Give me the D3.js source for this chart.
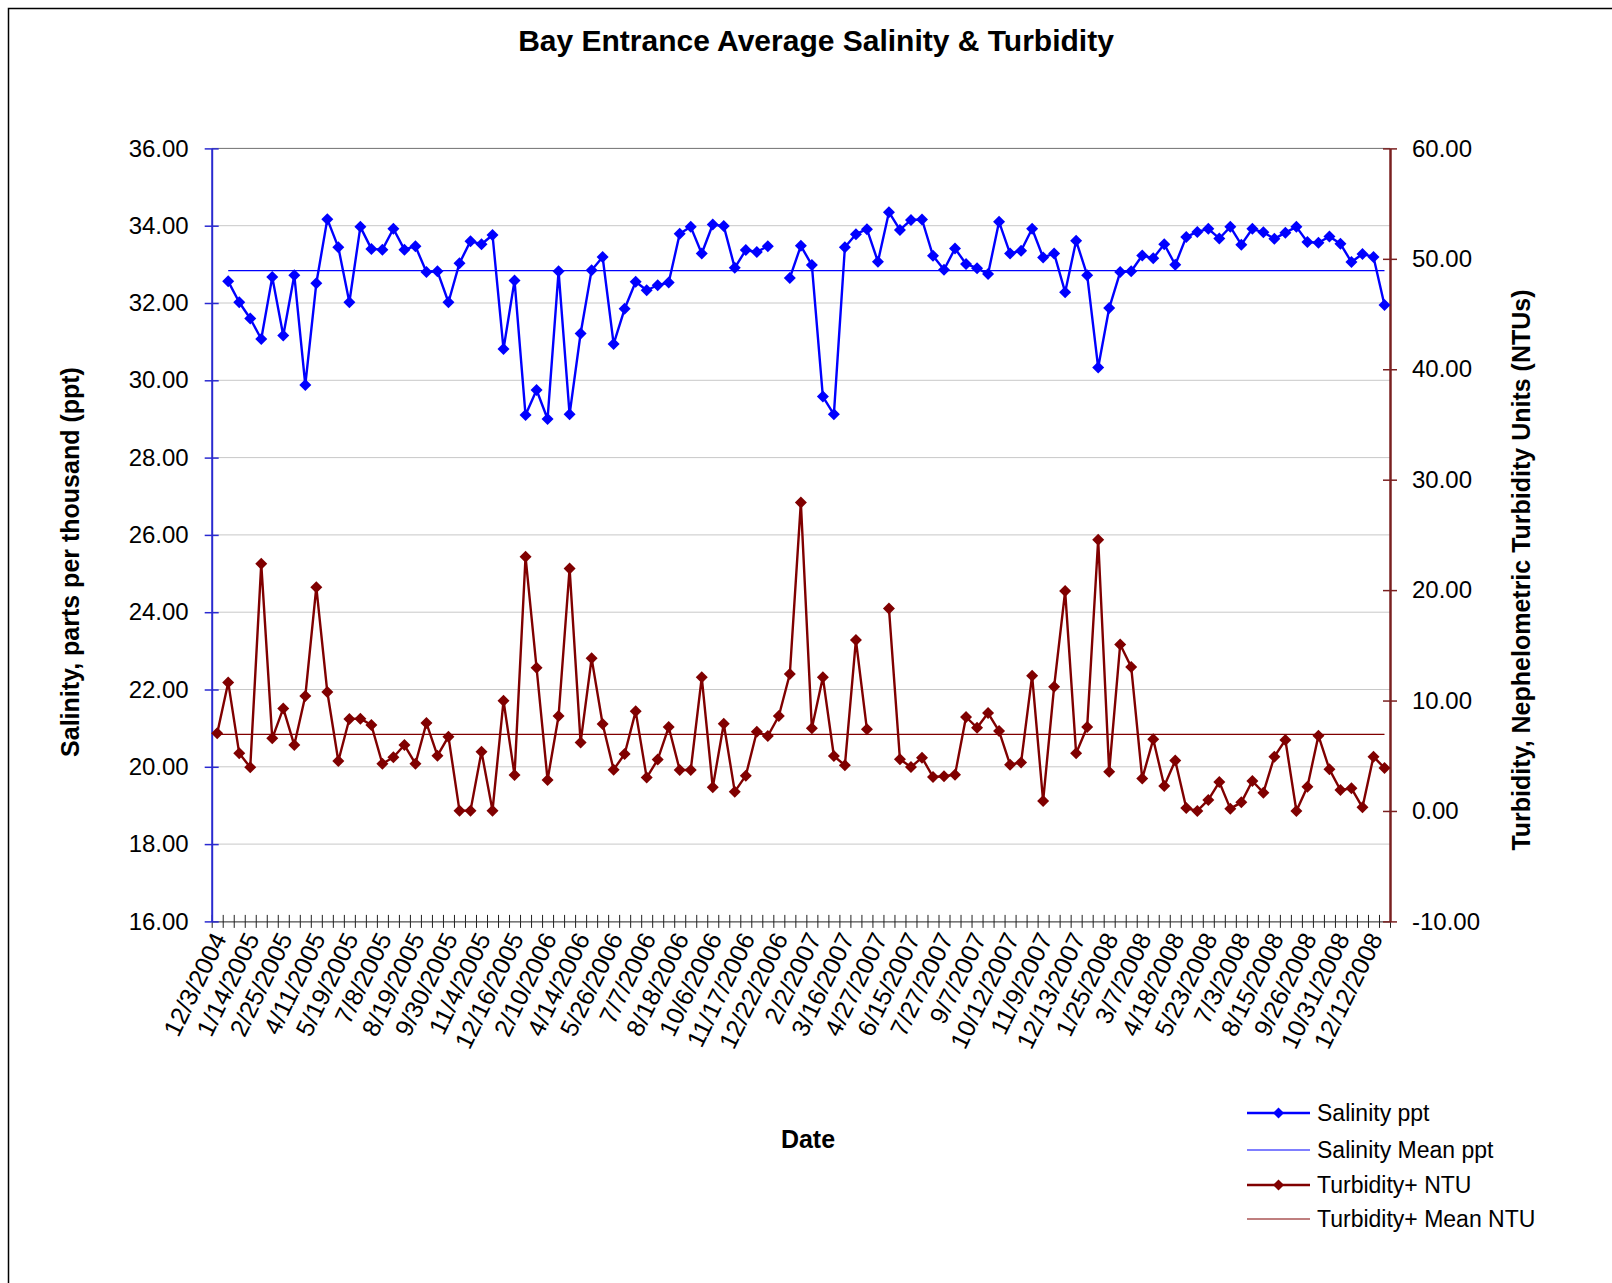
<!DOCTYPE html>
<html>
<head>
<meta charset="utf-8">
<script src="https://cdnjs.cloudflare.com/ajax/libs/d3/7.8.5/d3.min.js"></script>
<style>
body { margin: 0; background: #fff; }
text { font-family: "Liberation Sans", Arial, sans-serif; fill: #000; }
</style>
</head>
<body>
<svg id="chart" width="1612" height="1283"></svg>
<script>
//Data
var tickLabels = ["12/3/2004", "1/14/2005", "2/25/2005", "4/11/2005", "5/19/2005", "7/8/2005",
	"8/19/2005", "9/30/2005", "11/4/2005", "12/16/2005", "2/10/2006", "4/14/2006",
	"5/26/2006", "7/7/2006", "8/18/2006", "10/6/2006", "11/17/2006", "12/22/2006",
	"2/2/2007", "3/16/2007", "4/27/2007", "6/15/2007", "7/27/2007", "9/7/2007",
	"10/12/2007", "11/9/2007", "12/13/2007", "1/25/2008", "3/7/2008", "4/18/2008",
	"5/23/2008", "7/3/2008", "8/15/2008", "9/26/2008", "10/31/2008", "12/12/2008"];
var labelStep = 3;

var salinity = [null, 32.56, 32.02, 31.60, 31.07, 32.67, 31.16, 32.72, 29.88, 32.51,
	34.17, 33.44, 32.02, 33.97, 33.40, 33.38, 33.92, 33.38, 33.47, 32.80,
	32.82, 32.02, 33.03, 33.60, 33.52, 33.76, 30.81, 32.58, 29.10, 29.75,
	29.00, 32.82, 29.12, 31.21, 32.85, 33.19, 30.94, 31.85, 32.55, 32.33,
	32.46, 32.53, 33.79, 33.97, 33.28, 34.03, 33.99, 32.91, 33.37, 33.32,
	33.47, null, 32.65, 33.48, 32.98, 29.58, 29.12, 33.44, 33.78, 33.91,
	33.07, 34.35, 33.89, 34.15, 34.16, 33.22, 32.86, 33.41, 33.01, 32.90,
	32.75, 34.10, 33.28, 33.35, 33.92, 33.18, 33.28, 32.28, 33.61, 32.72,
	30.33, 31.87, 32.80, 32.82, 33.23, 33.16, 33.52, 32.99, 33.71, 33.84,
	33.92, 33.67, 33.97, 33.51, 33.92, 33.83, 33.66, 33.82, 33.97, 33.58,
	33.56, 33.72, 33.53, 33.06, 33.27, 33.19, 31.95];

var turbidity = [7.03, 11.64, 5.22, 3.95, 22.38, 6.58, 9.29, 5.97, 10.41, 20.27,
	10.77, 4.52, 8.33, 8.36, 7.78, 4.28, 4.86, 5.97, 4.28, 7.96,
	5.01, 6.73, 0.03, 0.03, 5.37, 0.03, 9.98, 3.26, 23.02, 12.97,
	2.81, 8.60, 21.96, 6.21, 13.82, 7.87, 3.74, 5.16, 9.02, 3.02,
	4.65, 7.60, 3.71, 3.71, 12.10, 2.14, 7.90, 1.75, 3.20, 7.18,
	6.79, 8.60, 12.40, 27.93, 7.48, 12.10, 4.98, 4.13, 15.48, 7.39,
	null, 18.34, 4.68, 3.98, 4.83, 3.08, 3.14, 3.29, 8.51, 7.54,
	8.87, 7.24, 4.19, 4.40, 12.25, 0.90, 11.25, 19.91, 5.22, 7.60,
	24.56, 3.56, 15.08, 13.03, 2.93, 6.49, 2.26, 4.56, 0.27, 0.00,
	1.00, 2.62, 0.21, 0.78, 2.71, 1.66, 4.92, 6.43, 0.00, 2.20,
	6.82, 3.77, 1.90, 2.05, 0.33, 4.92, 3.89];

var salinityMean = 32.84;
var turbidityMean = 6.94;

var salinityTicks = [16, 18, 20, 22, 24, 26, 28, 30, 32, 34, 36];
var turbidityTicks = [-10, 0, 10, 20, 30, 40, 50, 60];

var legendNames = ["Salinity ppt", "Salinity Mean ppt", "Turbidity+ NTU", "Turbidity+ Mean NTU"];

//Layout
var plotLeft = 211.7, plotRight = 1390, plotTop = 148.4, plotBottom = 921.4;
var blue = "#0000ff";
var red = "#800000";
var font = "Liberation Sans, Arial, sans-serif";

var svg = d3.select("#chart");

drawChart();

function fixed2(d) { return d.toFixed(2); }

function drawChart() {
	// outer chart border
	svg.append("rect")
		.attr("x", 8.5).attr("y", 8.5)
		.attr("width", 1700).attr("height", 1400)
		.attr("fill", "none").attr("stroke", "#000").attr("stroke-width", 1.5);

	var x = d3.scaleBand()
		.domain(d3.range(salinity.length))
		.range([plotLeft, plotRight])
		.padding(0);
	var cx = function(i) { return x(i) + x.bandwidth() / 2; };

	var y = d3.scaleLinear().domain([16, 36]).range([plotBottom, plotTop]);
	var y2 = d3.scaleLinear().domain([-10, 60]).range([plotBottom, plotTop]);

	// gridlines
	svg.append("g").selectAll("line")
		.data(salinityTicks.filter(function(d) { return d > 16; }))
		.enter().append("line")
		.attr("x1", plotLeft).attr("x2", plotRight)
		.attr("y1", function(d) { return y(d); })
		.attr("y2", function(d) { return y(d); })
		.attr("stroke", function(d) { return d == 36 ? "#707070" : "#c8c8c8"; })
		.attr("stroke-width", 1);

	// bottom axis, ticks between categories
	var edges = d3.scaleLinear().domain([0, salinity.length]).range([plotLeft, plotRight]);
	var xAxis = svg.append("g")
		.attr("transform", "translate(0," + plotBottom + ")")
		.call(d3.axisBottom(edges).tickValues(d3.range(salinity.length + 1)).tickFormat("").tickSize(6.5).tickSizeOuter(0));
	xAxis.select(".domain").attr("stroke", "#222");
	xAxis.selectAll(".tick line").attr("y1", -6.5).attr("stroke", "#222");

	svg.append("g").selectAll("text")
		.data(tickLabels)
		.enter().append("text")
		.attr("transform", function(d, i) { return "translate(" + (cx(i * labelStep) + 2) + "," + (plotBottom + 13) + ") rotate(-64)"; })
		.attr("text-anchor", "end")
		.attr("dy", "0.35em")
		.style("font-size", "25px")
		.text(function(d) { return d; });

	// left axis
	var yAxis = svg.append("g")
		.attr("transform", "translate(" + plotLeft + ",0)")
		.call(d3.axisLeft(y).tickValues(salinityTicks).tickFormat(fixed2).tickSize(7).tickSizeOuter(0).tickPadding(16));
	yAxis.select(".domain").attr("stroke", "#2a2ad0").attr("stroke-width", 2);
	yAxis.selectAll(".tick line").attr("x1", 7).attr("stroke", "#2a2ad0").attr("stroke-width", 1.5);
	yAxis.selectAll(".tick text").style("font-size", "24px").style("font-family", font).attr("fill", "#000");

	// right axis
	var y2Axis = svg.append("g")
		.attr("transform", "translate(" + plotRight + ",0)")
		.call(d3.axisRight(y2).tickValues(turbidityTicks).tickFormat(fixed2).tickSize(7).tickSizeOuter(0).tickPadding(15));
	y2Axis.select(".domain").attr("stroke", "#7a2020").attr("stroke-width", 2.5);
	y2Axis.selectAll(".tick line").attr("x1", -7).attr("stroke", "#7a2020").attr("stroke-width", 1.5);
	y2Axis.selectAll(".tick text").style("font-size", "24px").style("font-family", font).attr("fill", "#000");

	// series
	drawMean(salinity, salinityMean, y, x, blue);
	drawSeries(salinity, y, x, blue);
	drawMean(turbidity, turbidityMean, y2, x, red);
	drawSeries(turbidity, y2, x, red);

	// titles
	svg.append("text")
		.attr("x", 816).attr("y", 51)
		.attr("text-anchor", "middle")
		.style("font-size", "30px").style("font-weight", "bold")
		.text("Bay Entrance Average Salinity & Turbidity");

	svg.append("text")
		.attr("transform", "translate(70,562) rotate(-90)")
		.attr("text-anchor", "middle").attr("dy", "0.35em")
		.style("font-size", "25px").style("font-weight", "bold")
		.text("Salinity, parts per thousand (ppt)");

	svg.append("text")
		.attr("transform", "translate(1521,570) rotate(-90)")
		.attr("text-anchor", "middle").attr("dy", "0.35em")
		.style("font-size", "25px").style("font-weight", "bold")
		.text("Turbidity, Nephelometric Turbidity Units (NTUs)");

	svg.append("text")
		.attr("x", 808).attr("y", 1139)
		.attr("text-anchor", "middle").attr("dy", "0.35em")
		.style("font-size", "25px").style("font-weight", "bold")
		.text("Date");

	drawLegend();
}

function drawSeries(values, yScale, x, color) {
	var cx = function(i) { return x(i) + x.bandwidth() / 2; };
	var line = d3.line()
		.defined(function(d) { return d != null; })
		.x(function(d, i) { return cx(i); })
		.y(function(d) { return yScale(d); });

	svg.append("path")
		.datum(values)
		.attr("d", line)
		.attr("fill", "none")
		.attr("stroke", color)
		.attr("stroke-width", 2.4)
		.attr("stroke-linejoin", "round");

	var diamond = d3.symbol().type(d3.symbolSquare).size(72);
	svg.append("g").selectAll("path")
		.data(values.map(function(d, i) { return {v: d, i: i}; }).filter(function(d) { return d.v != null; }))
		.enter().append("path")
		.attr("d", diamond)
		.attr("transform", function(d) { return "translate(" + cx(d.i) + "," + yScale(d.v) + ") rotate(45)"; })
		.attr("fill", color);
}

function drawMean(values, mean, yScale, x, color) {
	var cx = function(i) { return x(i) + x.bandwidth() / 2; };
	var idx = d3.range(values.length).filter(function(i) { return values[i] != null; });
	var first = idx[0], last = idx[idx.length - 1];
	svg.append("line")
		.attr("x1", cx(first)).attr("x2", cx(last))
		.attr("y1", yScale(mean)).attr("y2", yScale(mean))
		.attr("stroke", color).attr("stroke-width", 1.2);
}

function drawLegend() {
	var rows = [1113, 1150, 1185, 1219];
	var colors = [blue, blue, red, red];
	var marks = [true, false, true, false];
	var diamond = d3.symbol().type(d3.symbolSquare).size(60);

	var g = svg.append("g");
	legendNames.forEach(function(name, i) {
		g.append("line")
			.attr("x1", 1247).attr("x2", 1310)
			.attr("y1", rows[i]).attr("y2", rows[i])
			.attr("stroke", colors[i])
			.attr("stroke-width", marks[i] ? 2.4 : 1.2);
		if (marks[i]) {
			g.append("path")
				.attr("d", diamond)
				.attr("transform", "translate(1278.5," + rows[i] + ") rotate(45)")
				.attr("fill", colors[i]);
		}
		g.append("text")
			.attr("x", 1317).attr("y", rows[i])
			.attr("dy", "0.35em")
			.style("font-size", "23px")
			.text(name);
	});
}
</script>
</body>
</html>
